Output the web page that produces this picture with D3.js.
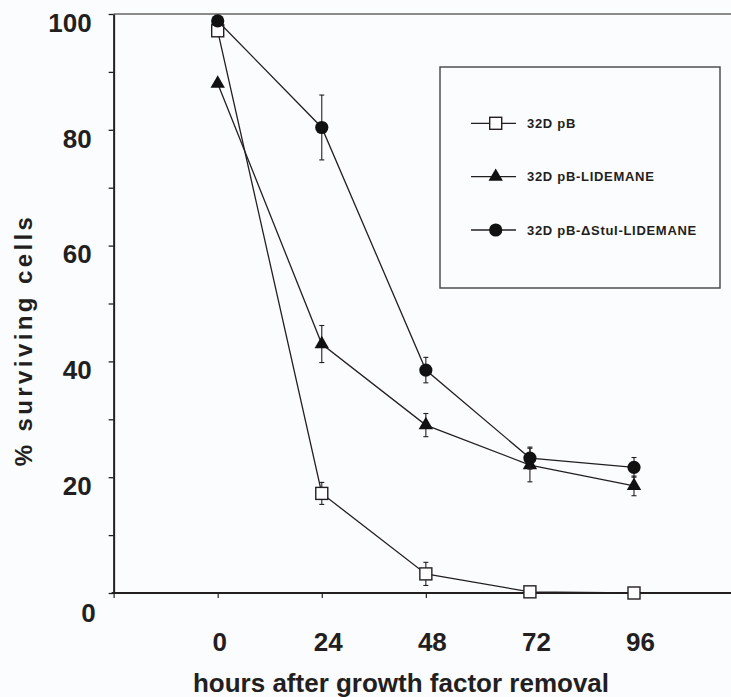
<!DOCTYPE html>
<html>
<head>
<meta charset="utf-8">
<script src="https://cdn.jsdelivr.net/npm/d3@7"></script>
<style>
  html, body { margin: 0; padding: 0; background: #fbfcfe; }
  svg { display: block; }
  text { font-family: Arial, "Liberation Sans", sans-serif; font-weight: bold; fill: #231f20; }
</style>
</head>
<body>
<svg id="chart" width="731" height="697"></svg>
<script>
// ---- data ----
const hours = [0, 24, 48, 72, 96];
const seriesNames = ["32D pB", "32D pB-LIDEMANE", "32D pB-\u0394StuI-LIDEMANE"];
const pB = [97.1, 17.2, 3.3, 0.2, 0.0];
const pBErr = [0, 1.9, 2.0, 0, 0];
const pBLid = [88.0, 43.0, 29.0, 22.1, 18.5];
const pBLidErr = [0, 3.2, 2.0, 2.9, 1.7];
const pBStu = [98.8, 80.4, 38.5, 23.3, 21.7];
const pBStuErr = [0, 5.6, 2.2, 1.9, 1.7];
const yTicks = [0, 10, 20, 30, 40, 50, 60, 70, 80, 90, 100];
const xTicks = [-24, 0, 24, 48, 72, 96];
const xTitle = "hours after growth factor removal";
const yTitle = "% surviving cells";

const svg = d3.select("#chart");
const W = 731;
const x = d3.scaleLinear().domain([0, 96]).range([217.7, 634]);
const y = d3.scaleLinear().domain([0, 100]).range([593, 14]);
const ink = "#231f20";

// top frame line
svg.append("line").attr("x1", x(-24)).attr("x2", W).attr("y1", y(100)).attr("y2", y(100))
  .attr("stroke", "#666").attr("stroke-width", 1.5);

// y axis
const yAxis = svg.append("g").attr("transform", `translate(${x(-24)},0)`)
  .call(d3.axisLeft(y).tickValues(yTicks).tickSize(5).tickSizeOuter(0).tickPadding(17)
    .tickFormat(d => d % 20 === 0 ? d : ""));
yAxis.select(".domain").attr("stroke", ink).attr("stroke-width", 2);
yAxis.selectAll(".tick line").attr("stroke", ink).attr("stroke-width", 1.3);
yAxis.selectAll(".tick text").attr("font-size", 26).attr("fill", ink)
  .attr("font-family", "Arial, 'Liberation Sans', sans-serif").attr("font-weight", "bold")
  .attr("transform", d => `translate(${d === 0 ? 4 : 0},${d === 0 ? 20 : 9})`);

// x axis
const xAxis = svg.append("g").attr("transform", `translate(0,${y(0)})`)
  .call(d3.axisBottom(x).tickValues(xTicks).tickSize(5).tickSizeOuter(0).tickPadding(35)
    .tickFormat(d => d < 0 ? "" : d));
xAxis.select(".domain").remove();
xAxis.append("line").attr("x1", x(-24) - 2).attr("x2", W).attr("y1", 0).attr("y2", 0)
  .attr("stroke", ink).attr("stroke-width", 2);
xAxis.selectAll(".tick line").attr("stroke", ink).attr("stroke-width", 1.2);
xAxis.selectAll(".tick text").attr("font-size", 26).attr("fill", ink)
  .attr("font-family", "Arial, 'Liberation Sans', sans-serif").attr("font-weight", "bold")
  .attr("dx", d => d === 0 ? 1.5 : 6);

// titles
svg.append("text").attr("x", 401).attr("y", 692).attr("text-anchor", "middle")
  .attr("font-size", 26).text(xTitle);
svg.append("text").attr("transform", "translate(32,340) rotate(-90)").attr("text-anchor", "middle")
  .attr("font-size", 24).attr("letter-spacing", 3.4).text(yTitle);

// series
const series = [
  { name: seriesNames[0], vals: pB, err: pBErr, shape: "square" },
  { name: seriesNames[1], vals: pBLid, err: pBLidErr, shape: "triangle" },
  { name: seriesNames[2], vals: pBStu, err: pBStuErr, shape: "circle" }
];

function drawMarker(g, shape, cx, cy) {
  if (shape === "square") {
    g.append("rect").attr("x", cx - 6).attr("y", cy - 6).attr("width", 12).attr("height", 12)
      .attr("fill", "#fff").attr("stroke", ink).attr("stroke-width", 1.4);
  } else if (shape === "triangle") {
    g.append("path").attr("d", d3.symbol(d3.symbolTriangle, 90)())
      .attr("transform", `translate(${cx},${cy})`).attr("fill", "#111");
  } else {
    g.append("circle").attr("cx", cx).attr("cy", cy).attr("r", 6.6).attr("fill", "#111");
  }
}

const line = d3.line().x(d => x(d[0])).y(d => y(d[1]));
series.forEach(s => {
  const g = svg.append("g");
  const pts = hours.map((h, i) => [h, s.vals[i]]);
  g.append("path").attr("d", line(pts)).attr("fill", "none").attr("stroke", ink).attr("stroke-width", 1.3);
  hours.forEach((h, i) => {
    const e = s.err[i];
    if (e > 0) {
      const cx = x(h), y1 = y(s.vals[i] + e), y2 = y(s.vals[i] - e);
      g.append("line").attr("x1", cx).attr("x2", cx).attr("y1", y1).attr("y2", y2).attr("stroke", ink).attr("stroke-width", 1.1);
      [y1, y2].forEach(yy => g.append("line").attr("x1", cx - 2.5).attr("x2", cx + 2.5).attr("y1", yy).attr("y2", yy)
        .attr("stroke", ink).attr("stroke-width", 1.1));
    }
  });
  hours.forEach((h, i) => drawMarker(g, s.shape, x(h), y(s.vals[i])));
});

// legend
const lg = svg.append("g");
lg.append("rect").attr("x", 440).attr("y", 67).attr("width", 280).attr("height", 221)
  .attr("fill", "none").attr("stroke", "#444").attr("stroke-width", 1.4);
const rowY = [123.3, 176.7, 230];
series.forEach((s, i) => {
  const ry = rowY[i];
  lg.append("line").attr("x1", 471).attr("x2", 516).attr("y1", ry).attr("y2", ry).attr("stroke", ink).attr("stroke-width", 1.3);
  drawMarker(lg, s.shape, 495.7, ry);
  lg.append("text").attr("x", 527).attr("y", ry + 4.7).attr("font-size", 13).attr("letter-spacing", 0.7).text(s.name);
});
</script>
</body>
</html>
